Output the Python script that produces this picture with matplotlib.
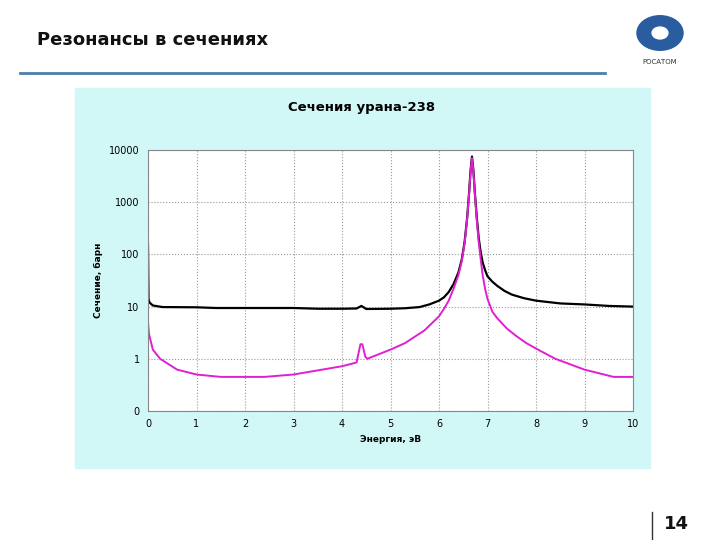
import numpy as np
import matplotlib.pyplot as plt
from matplotlib.ticker import FixedLocator, FixedFormatter, NullLocator

# total cross section (black)
total_e = [0.0, 0.01, 0.03, 0.1, 0.3, 1.0, 1.4, 2.0, 3.0, 3.5, 4.0, 4.3, 4.4, 4.5, 5.0, 5.3,
           5.6, 5.8, 6.0, 6.1, 6.2, 6.3, 6.4, 6.47, 6.53, 6.58, 6.62, 6.65, 6.68, 6.71,
           6.74, 6.78, 6.82, 6.86, 6.9, 6.95, 7.0, 7.1, 7.2, 7.35, 7.5, 7.75,
           8.0, 8.5, 9.0, 9.5, 10.0]
total_xs = [150, 14, 12, 10.5, 9.8, 9.7, 9.4, 9.4, 9.4, 9.1, 9.1, 9.2, 10.3, 9.0, 9.1, 9.3,
            9.8, 11, 13, 15, 19, 27, 45, 80, 180, 500, 1500, 4000, 7500, 4000,
            1500, 500, 200, 110, 70, 50, 38, 30, 25, 20, 17, 14.5,
            13, 11.5, 11, 10.3, 10]

# capture cross section (magenta)
capt_e = [0.0, 0.02, 0.1, 0.25, 0.6, 1.0, 1.5, 2.4, 3.0, 3.5, 4.0, 4.3, 4.38, 4.42, 4.48,
          4.52, 5.0, 5.3, 5.7, 6.0, 6.1, 6.2, 6.3, 6.4, 6.47, 6.53, 6.58, 6.62, 6.65,
          6.68, 6.71, 6.74, 6.78, 6.82, 6.86, 6.9, 6.95, 7.0, 7.1, 7.2, 7.4, 7.6, 7.8,
          8.1, 8.4, 9.0, 9.6, 10.0]
capt_xs = [5, 3, 1.5, 1.0, 0.62, 0.5, 0.45, 0.45, 0.5, 0.6, 0.72, 0.85, 1.9, 1.9, 1.1,
           1.0, 1.5, 2.0, 3.5, 6.5, 9, 13, 22, 40, 75, 170, 480, 1400, 3800,
           7000, 3800, 1400, 450, 170, 80, 40, 22, 14, 8, 6, 3.8, 2.7, 2.0,
           1.4, 1.0, 0.62, 0.45, 0.45]

y_ticks = [0.1, 1, 10, 100, 1000, 10000]
y_labels = ["0", "1", "10", "100", "1000", "10000"]

fig = plt.figure(figsize=(7.2, 5.4), dpi=100)
fig.patch.set_facecolor("white")
W, H = 720, 540

# slide decorations
fig.text(37 / W, 1 - 40 / H, "Резонансы в сечениях", fontsize=13, fontweight="bold",
         va="center", ha="left", color="#111111")
fig.add_artist(plt.Line2D([20 / W, 605 / W], [1 - 73 / H] * 2, color="#4d7fa8", lw=2))
fig.add_artist(plt.Circle((660 / W, 1 - 33 / H), 0.032, transform=fig.transFigure,
                          color="#2a5d9f"))
fig.add_artist(plt.Circle((660 / W, 1 - 33 / H), 0.011, transform=fig.transFigure,
                          color="white"))
fig.text(660 / W, 1 - 62 / H, "РОСАТОМ", fontsize=5, ha="center", va="center", color="#333")
fig.add_artist(plt.Line2D([652 / W] * 2, [1 - 512 / H, 1 - 540 / H], color="#333", lw=1))
fig.text(664 / W, 1 - 524 / H, "14", fontsize=13, fontweight="bold", va="center",
         color="#111111")

# chart panel background
fig.add_artist(plt.Rectangle((75 / W, 1 - 468 / H), 575 / W, 380 / H,
                             transform=fig.transFigure, color="#d2f7f7", zorder=0))
fig.text(362 / W, 1 - 108 / H, "Сечения урана-238", fontsize=9.5, fontweight="bold",
         ha="center", va="center")

ax = fig.add_axes([148 / W, 1 - 411 / H, 485 / W, 261 / H])
ax.set_facecolor("white")
ax.set_yscale("log")
ax.set_xlim(0, 10)
ax.set_ylim(0.1, 10000)
ax.plot(total_e, total_xs, color="black", lw=1.6)
ax.plot(capt_e, capt_xs, color="#e020d0", lw=1.4)

ax.yaxis.set_major_locator(FixedLocator(y_ticks))
ax.yaxis.set_major_formatter(FixedFormatter(y_labels))
ax.yaxis.set_minor_locator(NullLocator())
ax.set_xticks(range(11))
ax.grid(True, color="#999999", ls=":", lw=0.8)
ax.tick_params(labelsize=7, length=0, pad=6)
for s in ax.spines.values():
    s.set_color("#888888")
ax.set_xlabel("Энергия, эВ", fontsize=6.5, fontweight="bold", labelpad=4)
ax.set_ylabel("Сечение, барн", fontsize=6.5, fontweight="bold", labelpad=4)

fig.savefig("out.png", dpi=100)
